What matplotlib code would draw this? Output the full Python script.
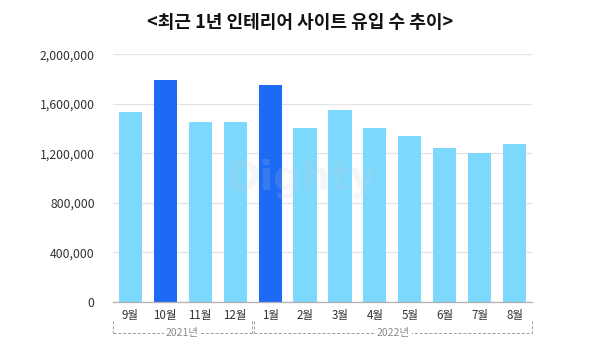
import matplotlib
matplotlib.use("Agg")
import matplotlib.pyplot as plt
from matplotlib.ticker import FuncFormatter

plt.rcParams['font.family'] = ['Noto Sans CJK KR', 'DejaVu Sans']

months = ['9월', '10월', '11월', '12월', '1월', '2월', '3월', '4월', '5월', '6월', '7월', '8월']
visits = [1530000, 1790000, 1450000, 1450000, 1750000, 1405000, 1550000, 1405000,
          1338000, 1243000, 1205000, 1275000]
highlight = [False, True, False, False, True, False, False, False, False, False, False, False]
years = ['2021년', '2022년']
year_spans = [(0, 3), (4, 11)]
yticks = [0, 400000, 800000, 1200000, 1600000, 2000000]
title = '<최근 1년 인테리어 사이트 유입 수 추이>'
watermark = 'Dighty'

light = '#7dd8fe'
dark = '#1d6bf4'

fig = plt.figure(figsize=(6, 3.5), dpi=100)
ax = fig.add_axes([0.188, 0.138, 0.699, 0.707])

x = list(range(len(months)))
colors = [dark if h else light for h in highlight]
ax.bar(x, visits, width=0.66, color=colors, zorder=3)

ax.set_xlim(-0.5, len(months) - 0.5)
ax.set_ylim(0, 2000000)
ax.set_yticks(yticks)
ax.yaxis.set_major_formatter(FuncFormatter(lambda v, p: f'{int(v):,}'))
ax.set_xticks(x)
ax.set_xticklabels(months)
ax.tick_params(axis='both', length=0, colors='#333333')
ax.tick_params(axis='y', pad=13, labelsize=8.8)
ax.tick_params(axis='x', pad=5, labelsize=8.3)
ax.grid(axis='y', color='#e2e2e2', linewidth=0.9, zorder=0)
for s in ['top', 'right', 'left']:
    ax.spines[s].set_visible(False)
ax.spines['bottom'].set_color('#b0b0b0')
ax.spines['bottom'].set_linewidth(0.9)
ax.spines['bottom'].set_zorder(4)

# faint watermark across the plot
fig.text(0.502, 0.457, watermark, ha='center', va='baseline', fontsize=29,
         fontweight='bold', color='#c9ced6', alpha=0.17, zorder=10,
         family='DejaVu Sans')

# year brackets below the month labels
trans = ax.get_xaxis_transform()
y_top, y_bot = -0.08, -0.125
for label, (a, b) in zip(years, year_spans):
    x0 = a - 0.5 + (0.03 if a > 0 else 0)
    x1 = b + 0.5 - (0.03 if b < len(months) - 1 else 0)
    kw = dict(color='#9a9a9a', linewidth=0.7, linestyle=(0, (3, 2)), transform=trans,
              clip_on=False)
    ax.plot([x0, x0], [y_top, y_bot], **kw)
    ax.plot([x1, x1], [y_top, y_bot], **kw)
    ax.plot([x0, x1], [y_bot, y_bot], **kw)
    ax.text((x0 + x1) / 2, y_bot, label, transform=trans, ha='center', va='center',
            fontsize=7.5, color='#8a8a8a',
            bbox=dict(facecolor='white', edgecolor='none', pad=1.5))

fig.text(0.5, 0.937, title, ha='center', va='center', fontsize=13, fontweight='bold',
         color='#111111')

fig.savefig('out.png', dpi=100, facecolor='white')
